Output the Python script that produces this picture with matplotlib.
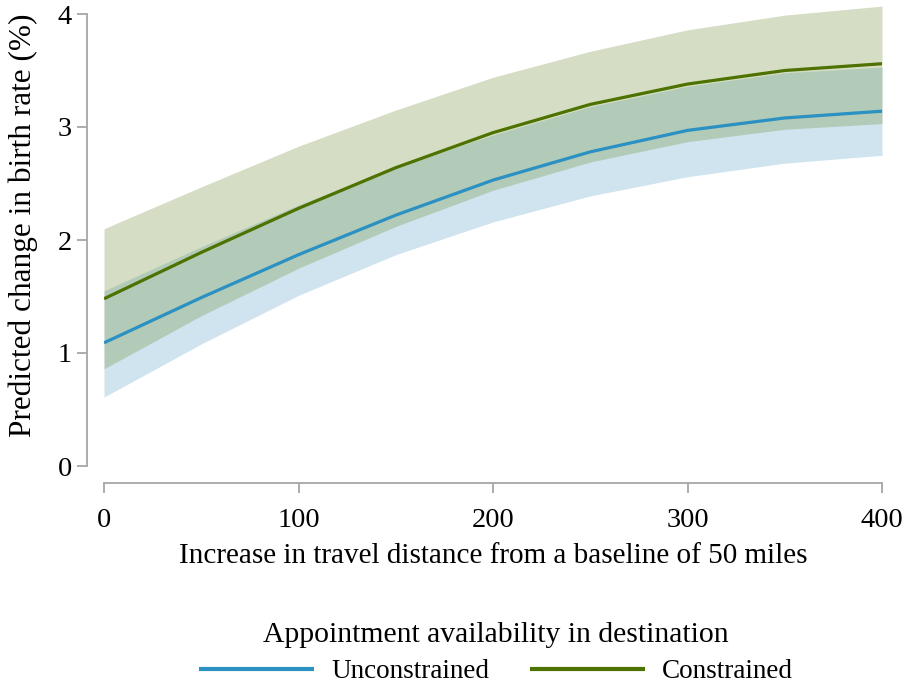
import matplotlib
matplotlib.use("Agg")
import matplotlib.pyplot as plt

# Predicted change in birth rate (%) by increase in travel distance (miles)
distance = [0, 50, 100, 150, 200, 250, 300, 350, 400]

unconstrained = [1.09, 1.49, 1.87, 2.22, 2.53, 2.78, 2.97, 3.08, 3.14]
unconstrained_lo = [0.61, 1.08, 1.51, 1.87, 2.16, 2.39, 2.56, 2.68, 2.75]
unconstrained_hi = [1.55, 1.94, 2.31, 2.64, 2.93, 3.18, 3.36, 3.48, 3.53]

constrained = [1.48, 1.89, 2.28, 2.64, 2.95, 3.20, 3.38, 3.50, 3.56]
constrained_lo = [0.86, 1.33, 1.75, 2.12, 2.44, 2.69, 2.87, 2.98, 3.03]
constrained_hi = [2.10, 2.47, 2.83, 3.15, 3.44, 3.67, 3.86, 3.99, 4.07]

x_ticks = [0, 100, 200, 300, 400]
y_ticks = [0, 1, 2, 3, 4]

blue = "#2b90c2"
green = "#4e7200"
blue_band = "#cfe4ee"
green_band = (105 / 255, 137 / 255, 44 / 255)

plt.rcParams["font.family"] = ["Liberation Serif", "DejaVu Serif"]

W, H = 907, 688
fig = plt.figure(figsize=(W / 100, H / 100), dpi=100)
# plot region: x 0..400 -> px 104..882, y 0..4 -> px 466..14
ytop = 4.12
ax = fig.add_axes([104 / W, 1 - 466 / H, (882 - 104) / W, (ytop * 113) / H])

ax.fill_between(distance, unconstrained_lo, unconstrained_hi,
                color=blue_band, linewidth=0, zorder=1)
ax.fill_between(distance, constrained_lo, constrained_hi,
                color=green_band, alpha=0.28, linewidth=0, zorder=2)
l1, = ax.plot(distance, unconstrained, color=blue, lw=2.3, zorder=3,
              solid_capstyle="butt", solid_joinstyle="round")
l2, = ax.plot(distance, constrained, color=green, lw=2.3, zorder=4,
              solid_capstyle="butt", solid_joinstyle="round")

ax.set_xlim(0, 400)
ax.set_ylim(0, ytop)
ax.set_xticks(x_ticks)
ax.set_yticks(y_ticks)

spine_col = "#a6a6a6"
for side in ("top", "right"):
    ax.spines[side].set_visible(False)
ax.spines["left"].set_position(("outward", 12.2))
ax.spines["bottom"].set_position(("outward", 12.0))
ax.spines["left"].set_bounds(0, 4)
ax.spines["bottom"].set_bounds(0, 400)
for side in ("left", "bottom"):
    ax.spines[side].set_color(spine_col)
    ax.spines[side].set_linewidth(1.3)

ax.tick_params(axis="both", colors=spine_col, labelcolor="black",
               length=7, width=1.3, labelsize=20.5)
ax.tick_params(axis="y", pad=4)
ax.tick_params(axis="x", pad=11)

ax.set_xlabel("Increase in travel distance from a baseline of 50 miles",
              fontsize=21, labelpad=7.5)
fig.text(23 / W, 1 - 225 / H, "Predicted change in birth rate (%)",
         rotation=90, ha="center", va="center", fontsize=22.5)

leg = fig.legend([l1, l2], ["Unconstrained", "Constrained"],
                 title="Appointment availability in destination",
                 loc="center", bbox_to_anchor=(496 / W, 1 - 653 / H),
                 ncol=2, frameon=False, fontsize=19.5, title_fontsize=21.3,
                 handlelength=4.25, handletextpad=0.62, columnspacing=1.5,
                 borderpad=0.2)
leg._legend_box.sep = 8
for h in leg.legend_handles:
    h.set_linewidth(3)

fig.savefig("out.png", dpi=100)
